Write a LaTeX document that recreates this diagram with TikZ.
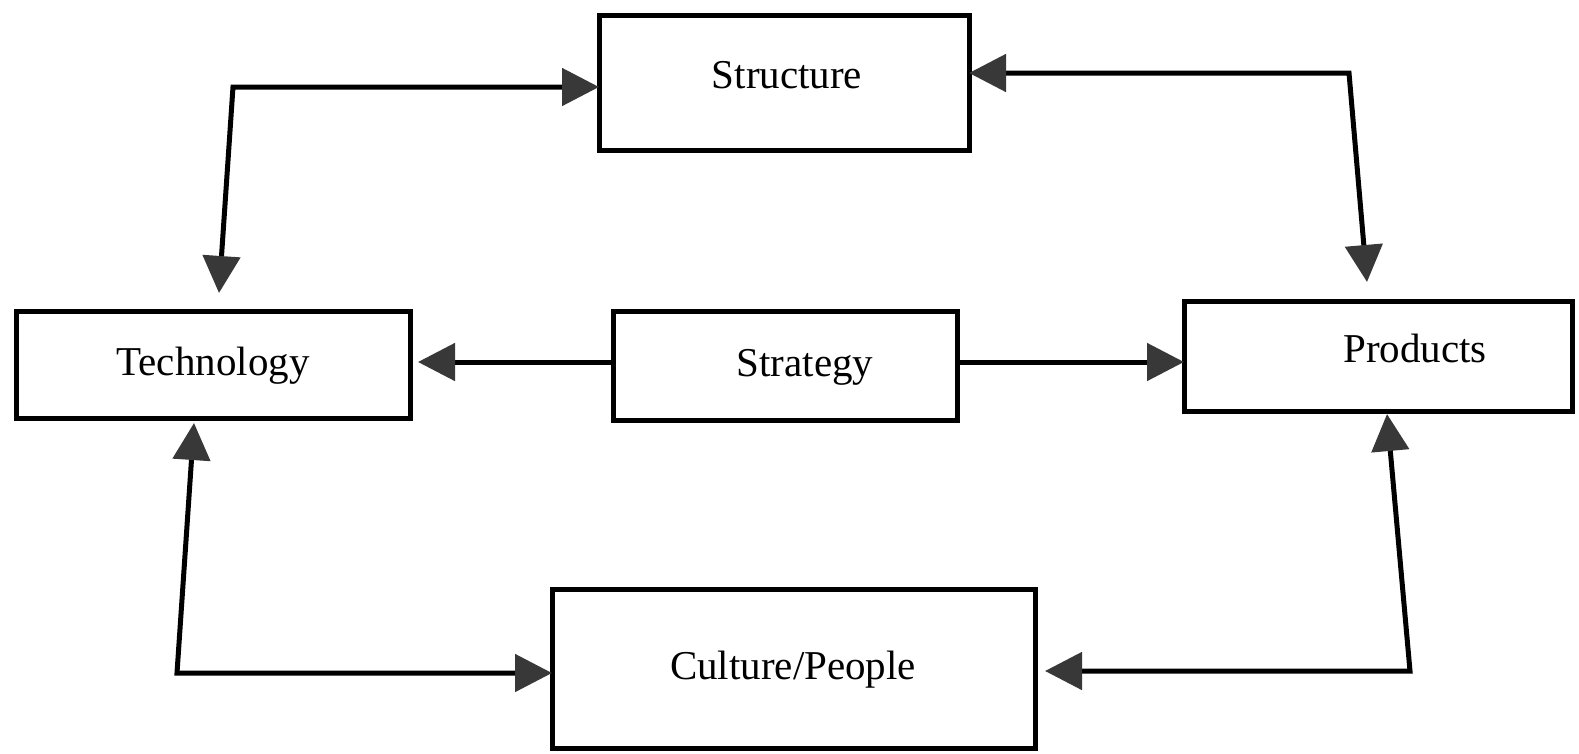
\documentclass[tikz,border=0pt]{standalone}
\usepackage{fontspec}
\setmainfont{Liberation Serif}
\usetikzlibrary{arrows.meta}
\definecolor{tipgray}{HTML}{383838}
\begin{document}
\begin{tikzpicture}[x=1pt,y=-1pt,
  box/.style={draw=black,line width=5pt,inner sep=0pt,outer sep=0pt},
  lbl/.style={font=\fontsize{41}{49}\selectfont,anchor=base,inner sep=0pt},
  link/.style={line width=5pt,line join=miter},
  >={Triangle[length=37pt,width=37pt,color=tipgray]}]
  \useasboundingbox[fill=white] (0,0) rectangle (1579,753);

  % boxes
  \node[box,minimum width=370pt,minimum height=135pt] (st) at (784,82.5) {};
  \node[box,minimum width=394pt,minimum height=107pt] (te) at (213,364.5) {};
  \node[box,minimum width=344pt,minimum height=109pt] (sg) at (785,365.5) {};
  \node[box,minimum width=388pt,minimum height=110pt] (pr) at (1378,356) {};
  \node[box,minimum width=483pt,minimum height=159pt] (cu) at (793.5,668.5) {};

  % labels
  \node[lbl] (stT) at (787,88) {Structure};
  \node[lbl] (teT) at (213,375) {Technology};
  \node[lbl] (sgT) at (805,376) {Strategy};
  \node[lbl] (prT) at (1415,362) {Products};
  \node[lbl] (cuT) at (793,679) {Culture/People};

  % corners and free ends of the connectors
  \coordinate (c1) at (233,87);
  \coordinate (e1) at (219,293);
  \coordinate (c2) at (1349,73);
  \coordinate (e2) at (1367,282);
  \coordinate (c3) at (177,673);
  \coordinate (e3) at (194,423);
  \coordinate (c4) at (1410,671);
  \coordinate (e4) at (1387,414);
  \coordinate (e5) at (1045,671);
  \coordinate (e6) at (418,362);

  % connectors
  \draw[link,<->] (e1) -- (c1) -- (c1 -| st.west);
  \draw[link,<->] (c2 -| st.east) -- (c2) -- (e2);
  \draw[link,->] (e6 -| sg.west) -- (e6);
  \draw[link,->] (sg.east |- e6) -- (e6 -| pr.west);
  \draw[link,<->] (e3) -- (c3) -- (c3 -| cu.west);
  \draw[link,<->] (e4) -- (c4) -- (e5);
\end{tikzpicture}
\end{document}
